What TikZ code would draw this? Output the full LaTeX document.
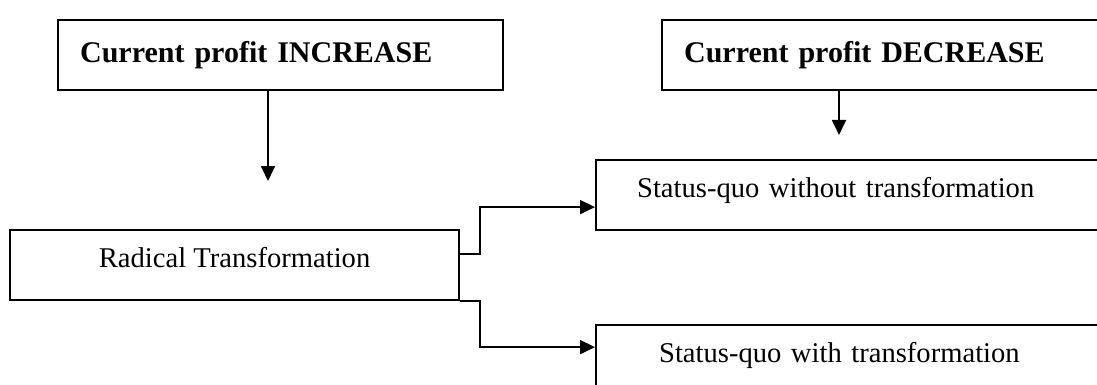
\documentclass[tikz,border=0pt]{standalone}
\usepackage{fontspec}
\setmainfont{Liberation Serif}
\usetikzlibrary{arrows.meta}

\begin{document}
\begin{tikzpicture}[x=0.5pt,y=-0.5pt,
    box/.style={draw,line width=1.1pt,anchor=north west,inner ysep=0pt,text height=18.5pt,text depth=16.5pt},
    headbox/.style={box,align=left,inner xsep=11pt,text height=21pt,text depth=14pt,font=\fontsize{15}{18}\selectfont\bfseries},
    plainbox/.style={box,font=\fontsize{14.3}{17}\selectfont},
    link/.style={line width=0.9pt,-{Triangle[length=7.5pt,width=7pt]}}]
  \useasboundingbox (0,0) rectangle (1097,385);
  \clip (0,0) rectangle (1097,385); % right boxes run off the page
  \node[headbox,text width=200.5pt] (inc) at (57,19) {Current profit INCREASE};
  \node[headbox,text width=227.5pt] (dec) at (661,19) {Current profit DECREASE};
  \node[plainbox,align=left,inner xsep=20.5pt,text width=236.5pt] (wo) at (595,159) {Status-quo without transformation};
  \node[plainbox,align=center,inner xsep=0pt,minimum width=224.5pt] (rad) at (9,229) {Radical Transformation};
  \node[plainbox,align=left,inner xsep=31.5pt,text width=214.5pt] (wi) at (595,324) {Status-quo with transformation};
  % free ends of the two short arrows
  \coordinate (incend) at (268,181);
  \coordinate (decend) at (839,135);
  \draw[link] (inc.south -| incend) -- (incend);
  \draw[link] (dec.south -| decend) -- (decend);
  \draw[link] ([yshift=5.5pt]rad.east) -- ++(10pt,0) |- ([yshift=-6pt]wo.west);
  \draw[link] (rad.south east) -- ++(10pt,0) |- ([yshift=6.5pt]wi.west);
\end{tikzpicture}
\end{document}
